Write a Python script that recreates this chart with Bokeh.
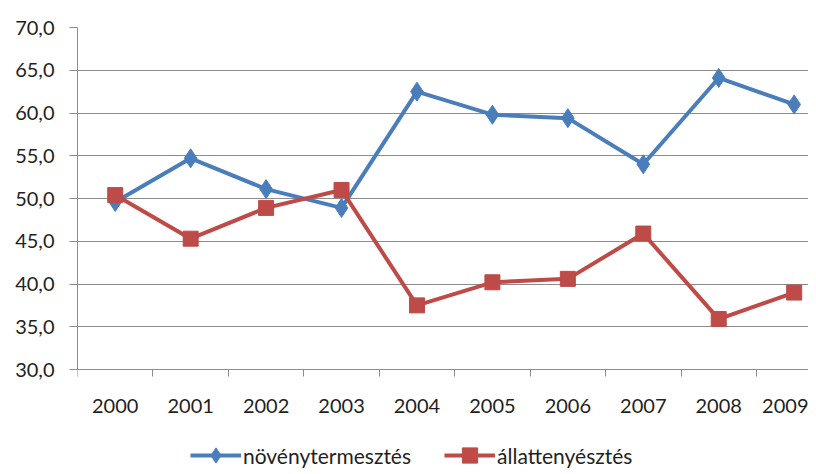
from bokeh.plotting import figure
from bokeh.models import FixedTicker, Legend, LegendItem, Range1d
from bokeh.embed import file_html
from bokeh.resources import INLINE

years = ["2000", "2001", "2002", "2003", "2004", "2005", "2006", "2007", "2008", "2009"]
novenytermesztes = [49.6, 54.7, 51.1, 48.9, 62.5, 59.8, 59.4, 54.0, 64.1, 61.0]
allattenyesztes = [50.4, 45.3, 48.9, 51.0, 37.5, 40.2, 40.6, 45.9, 35.9, 39.0]
y_ticks = [30, 35, 40, 45, 50, 55, 60, 65, 70]
y_labels = ["30,0", "35,0", "40,0", "45,0", "50,0", "55,0", "60,0", "65,0", "70,0"]

FONT = "Lato"
BLUE = "#4A7EBB"
RED = "#BE4B48"
GRAY = "#8C8C8C"
TXT = "#1F1F1F"

xs = list(range(len(years)))

# frame spans from the plot top down to the legend; the value axis covers 30..70
FRAME_H = 447
PX_PER_UNIT = 342 / 40.0
y_start = 70 - FRAME_H / PX_PER_UNIT

p = figure(width=808, height=466, output_backend="svg", toolbar_location=None,
           x_range=Range1d(-0.5, 9.19), y_range=Range1d(y_start, 70),
           min_border_left=77, min_border_right=0, min_border_top=27, min_border_bottom=0)
p.frame_width = 731
p.frame_height = FRAME_H
p.outline_line_color = None
p.background_fill_color = "white"

p.xgrid.grid_line_color = None
p.ygrid.grid_line_color = GRAY
p.ygrid.grid_line_width = 1
p.ygrid.ticker = FixedTicker(ticks=y_ticks)

p.yaxis.ticker = FixedTicker(ticks=y_ticks)
p.yaxis.bounds = (30, 70)
p.yaxis.major_label_overrides = {t: l for t, l in zip(y_ticks, y_labels)}
p.yaxis.axis_line_color = GRAY
p.yaxis.major_tick_line_color = GRAY
p.yaxis.major_tick_out = 8
p.yaxis.major_tick_in = 0
p.yaxis.minor_tick_line_color = None
p.yaxis.major_label_text_font = FONT
p.yaxis.major_label_text_font_size = "20px"
p.yaxis.major_label_text_color = TXT
p.yaxis.major_label_standoff = 15

p.xaxis.fixed_location = 30
p.xaxis.ticker = FixedTicker(ticks=xs, minor_ticks=[i - 0.5 for i in range(len(years) + 1)])
p.xaxis.major_label_overrides = {i: y for i, y in enumerate(years)}
p.xaxis.axis_line_color = GRAY
p.xaxis.major_tick_line_color = None
p.xaxis.major_tick_out = 0
p.xaxis.major_tick_in = 0
p.xaxis.minor_tick_line_color = GRAY
p.xaxis.minor_tick_out = 7
p.xaxis.minor_tick_in = 0
p.xaxis.major_label_text_font = FONT
p.xaxis.major_label_text_font_size = "20px"
p.xaxis.major_label_text_color = TXT
p.xaxis.major_label_standoff = 22

l1 = p.line(xs, novenytermesztes, line_color=BLUE, line_width=4)
s1 = p.scatter(xs, novenytermesztes, marker="diamond", size=19, fill_color=BLUE, line_color=BLUE)
l2 = p.line(xs, allattenyesztes, line_color=RED, line_width=4)
s2 = p.scatter(xs, allattenyesztes, marker="square", size=15, fill_color=RED, line_color=RED)

legend = Legend(items=[LegendItem(label="növénytermesztés", renderers=[l1, s1]),
                       LegendItem(label="állattenyésztés", renderers=[l2, s2])],
                orientation="horizontal", location=(113, 0),
                label_text_font=FONT, label_text_font_size="21px", label_text_color=TXT,
                glyph_width=51, glyph_height=38, label_height=38, label_standoff=2, spacing=33,
                padding=0, margin=0,
                border_line_color=None, background_fill_alpha=0)
p.add_layout(legend, "center")

open("out.html", "w").write(file_html(p, INLINE))
